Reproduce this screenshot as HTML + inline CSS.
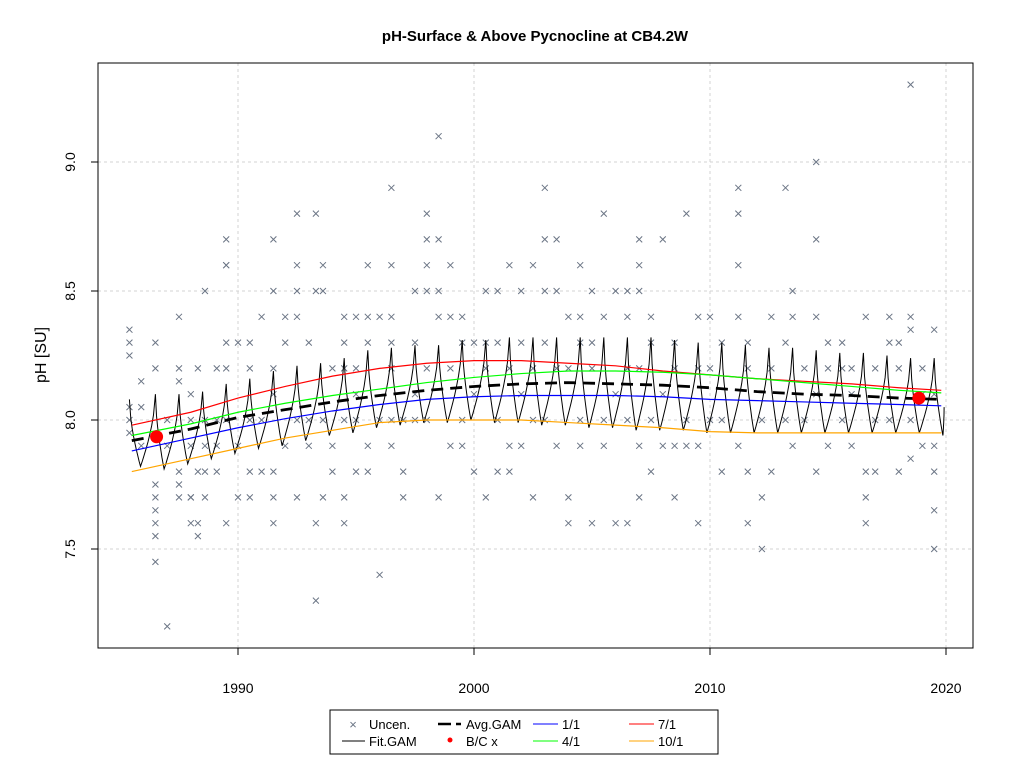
<!DOCTYPE html>
<html><head><meta charset="utf-8"><style>
body{margin:0;background:#fff;}
svg{display:block;font-family:"Liberation Sans",Arial,sans-serif;}
</style></head><body>
<svg id="chart" width="1024" height="768" viewBox="0 0 1024 768">
<rect width="1024" height="768" fill="#fff"/>
<text x="535" y="41" text-anchor="middle" font-size="15" font-weight="bold">pH-Surface &amp; Above Pycnocline at CB4.2W</text>
<g id="grid"></g>
<g id="scatter"></g>
<g id="lines"></g>
<rect x="98" y="63" width="875" height="585" fill="none" stroke="#000" stroke-width="1"/>
<g id="axes"></g>
<text transform="translate(46,355) rotate(-90)" text-anchor="middle" font-size="16">pH [SU]</text>
<g>
<rect x="330" y="710" width="388" height="44" fill="#fff" stroke="#000"/>
<text x="353" y="729" text-anchor="middle" font-size="13" fill="#6b7585">×</text>
<text x="369" y="729" font-size="13">Uncen.</text>
<line x1="342" y1="741" x2="365" y2="741" stroke="#000"/>
<text x="369" y="746" font-size="13">Fit.GAM</text>
<line x1="438" y1="724" x2="451" y2="724" stroke="#000" stroke-width="2.5"/><line x1="456" y1="724" x2="461" y2="724" stroke="#000" stroke-width="2.5"/>
<text x="466" y="729" font-size="13">Avg.GAM</text>
<circle cx="450" cy="740" r="2.5" fill="red"/>
<text x="466" y="746" font-size="13">B/C x</text>
<line x1="533" y1="724" x2="558" y2="724" stroke="#00f"/>
<text x="562" y="729" font-size="13">1/1</text>
<line x1="533" y1="741" x2="558" y2="741" stroke="#0f0"/>
<text x="562" y="746" font-size="13">4/1</text>
<line x1="629" y1="724" x2="654" y2="724" stroke="red"/>
<text x="658" y="729" font-size="13">7/1</text>
<line x1="629" y1="741" x2="654" y2="741" stroke="orange"/>
<text x="658" y="746" font-size="13">10/1</text>
</g>
</svg>
<script>
const xTicks=[1990,2000,2010,2020];
const yTicks=[7.5,8.0,8.5,9.0];
const yTickLabels=["7.5","8.0","8.5","9.0"];
const obs=[
[1985.4,[8.35,8.3,8.25,8.0,7.95,8.05]],[1985.9,[8.15,7.9,8.05]],
[1986.5,[8.3,7.55,7.75,8.2,7.65,7.6,7.7,7.45]],[1987,[7.2,7.9,8.0]],
[1987.5,[8.4,8.2,8.15,7.7,7.75,7.8]],[1988,[7.7,7.6,7.7,8.0,8.1,7.9]],
[1988.3,[7.55,7.6,7.8,8.2]],[1988.6,[8.5,7.7,8.0,7.8,7.9]],[1989.1,[7.8,8.0,8.2,7.9]],
[1989.5,[8.6,8.7,8.6,8.3,8.2,7.6,8.0]],[1990,[7.9,8.3,7.7]],[1990.5,[8.3,8.2,8.0,7.7,7.8]],
[1991,[8.4,7.8,8.0]],[1991.5,[8.7,8.5,8.2,8.1,7.8,7.7,7.6]],[1992,[8.4,7.9,8.3]],
[1992.5,[8.8,8.6,8.5,8.4,8.0,7.7]],[1993,[8.0,8.3,7.9]],[1993.3,[8.8,8.5,7.6,7.3]],
[1993.6,[8.6,8.5,7.7,8.0]],[1994,[8.2,7.8,7.9]],[1994.5,[8.4,8.3,8.2,7.6,7.7,8.0]],
[1995,[8.4,8.2,8.1,7.8,8.0]],[1995.5,[8.6,8.4,8.3,7.9,7.8]],[1996,[7.4,8.4,8.0]],
[1996.5,[8.9,8.6,8.4,8.3,8.2,8.0,7.9]],[1997,[7.7,7.8,8.0]],[1997.5,[8.5,8.3,8.1,8.0]],
[1998,[8.8,8.7,8.6,8.5,8.2,8.0]],[1998.5,[9.1,8.7,8.5,8.4,7.7]],[1999,[8.6,8.4,8.2,7.9]],
[1999.5,[8.4,8.3,7.9,8.0]],[2000,[8.3,8.1,7.8]],[2000.5,[8.5,8.3,8.2,7.7]],
[2001,[8.5,8.3,8.0,7.8]],[2001.5,[8.6,8.2,7.8,7.9]],[2002,[8.5,8.3,7.9,8.1]],
[2002.5,[8.6,8.2,7.7,8.0]],[2003,[8.9,8.7,8.5,8.3,8.0]],[2003.5,[8.7,8.5,8.2,7.9]],
[2004,[8.4,8.2,7.6,7.7]],[2004.5,[8.6,8.4,8.3,7.9,8.0]],[2005,[8.5,8.3,7.6,8.2]],
[2005.5,[8.8,8.4,8.0,7.9]],[2006,[8.5,8.1,7.6]],[2006.5,[8.5,8.4,8.2,7.6,8.0]],
[2007,[8.7,8.6,8.5,8.2,7.9,7.7]],[2007.5,[8.4,8.3,8.0,7.8]],[2008,[8.7,8.1,7.9]],
[2008.5,[8.3,8.2,7.7,7.9]],[2009,[8.8,8.0,7.9]],[2009.5,[8.4,8.2,7.6,7.9]],
[2010,[8.4,8.2,8.0]],[2010.5,[8.3,8.0,7.8]],[2011.2,[8.8,8.9,8.6,8.4,7.9]],
[2011.6,[8.3,7.6,8.2,7.8]],[2012.2,[8.0,7.7,7.5]],[2012.6,[8.4,8.2,7.8]],
[2013.2,[8.9,8.3,8.0]],[2013.5,[8.5,8.4,7.9]],[2014,[8.2,8.0]],[2014.5,[9.0,8.7,8.4,8.1,7.8]],
[2015,[8.3,8.2,7.9]],[2015.6,[8.2,8.3,8.0]],[2016,[8.2,8.1,7.9]],[2016.6,[8.4,7.8,7.6,7.7]],
[2017,[8.2,8.0,7.8]],[2017.6,[8.4,8.3,8.0]],[2018,[8.3,8.2,7.8]],[2018.5,[9.3,8.35,8.4,7.85,8.0]],
[2019,[8.2,8.1,7.9]],[2019.5,[8.35,7.5,7.65,8.1,7.8,7.9]]
];
const fitYears=[1985,1986,1987,1988,1989,1990,1991,1992,1993,1994,1995,1996,1997,1998,1999,2000,2001,2002,2003,2004,2005,2006,2007,2008,2009,2010,2011,2012,2013,2014,2015,2016,2017,2018,2019];
const fitPeaks=[8.08,8.10,8.10,8.11,8.14,8.16,8.19,8.21,8.22,8.24,8.27,8.28,8.29,8.29,8.31,8.31,8.32,8.32,8.32,8.32,8.32,8.32,8.32,8.31,8.30,8.30,8.29,8.28,8.28,8.27,8.26,8.26,8.25,8.24,8.24];
const fitTroughs=[7.82,7.81,7.83,7.85,7.87,7.89,7.90,7.92,7.94,7.95,7.97,7.98,7.99,7.99,8.0,7.99,7.99,7.98,7.98,7.97,7.97,7.96,7.96,7.96,7.95,7.95,7.95,7.95,7.95,7.95,7.95,7.95,7.95,7.95,7.94];
const trendYears=[1985.5,1988,1990,1992,1994,1996,1998,2000,2002,2004,2006,2008,2010,2012,2014,2016,2018,2019.8];
const jan=[7.88,7.93,7.97,8.005,8.035,8.06,8.08,8.09,8.095,8.095,8.095,8.09,8.08,8.075,8.07,8.065,8.06,8.055];
const apr=[7.94,7.985,8.03,8.065,8.095,8.12,8.145,8.165,8.18,8.19,8.19,8.185,8.175,8.16,8.145,8.13,8.115,8.105];
const jul=[7.98,8.03,8.085,8.13,8.17,8.20,8.22,8.23,8.23,8.22,8.21,8.19,8.175,8.16,8.15,8.14,8.125,8.115];
const oct=[7.80,7.85,7.89,7.93,7.96,7.99,8.0,8.0,8.0,7.99,7.98,7.97,7.955,7.95,7.95,7.95,7.95,7.95];
const avg=[7.92,7.965,8.01,8.04,8.07,8.095,8.115,8.13,8.14,8.145,8.14,8.135,8.125,8.11,8.10,8.095,8.085,8.08];
const bcYears=[1986.55,2018.85];
const bcValues=[7.935,8.085];

const NS="http://www.w3.org/2000/svg";
const X=y=>238+(y-1990)*23.6;
const Y=v=>420-(v-8)*258;
function mk(tag,attrs,parent){const e=document.createElementNS(NS,tag);for(const k in attrs)e.setAttribute(k,attrs[k]);parent.appendChild(e);return e;}
const grid=document.getElementById('grid'),axes=document.getElementById('axes'),sc=document.getElementById('scatter'),ln=document.getElementById('lines');
xTicks.forEach(t=>{
 const g=mk('line',{x1:X(t),x2:X(t),y1:63,y2:648,stroke:'#d3d3d3','stroke-dasharray':'3,3'},grid);
 
 
 const tk=mk('line',{x1:X(t),x2:X(t),y1:648,y2:655,stroke:'#000'},axes);
 
 
 const tx=mk('text',{x:X(t),y:693,'text-anchor':'middle','font-size':'14'},axes);tx.textContent=t;
 
 
});
yTicks.forEach((t,i)=>{
 const g=mk('line',{x1:98,x2:973,y1:Y(t),y2:Y(t),stroke:'#d3d3d3','stroke-dasharray':'3,3'},grid);
 
 
 const tk=mk('line',{x1:91,x2:98,y1:Y(t),y2:Y(t),stroke:'#000'},axes);
 
 
 const tx=mk('text',{transform:`translate(75,${Y(t)}) rotate(-90)`,'text-anchor':'middle','font-size':'14'},axes);tx.textContent=yTickLabels[i];
 
 
});
const xa=mk('line',{x1:X(1990),x2:X(2020),y1:648,y2:648,stroke:'#000'},axes);


obs.forEach(([yr,vals])=>vals.forEach(v=>{
 const cx=X(yr),cy=Y(v),s=3;
 const p=mk('path',{d:`M${cx-s},${cy-s}L${cx+s},${cy+s}M${cx-s},${cy+s}L${cx+s},${cy-s}`,stroke:'#6b7585','stroke-width':'1',fill:'none'},sc);
 
 
}));
// fit curve: sharp peaks and troughs
let pts=[];
const knots=[];
knots.push([1985.4,fitPeaks[0]]);
fitYears.forEach((y,i)=>{ if(i>0) knots.push([y+0.5,fitPeaks[i]]); knots.push([y+0.87,fitTroughs[i]]); });
knots.push([2019.92,8.05]);
for(let k=0;k<knots.length-1;k++){
 const [t0,v0]=knots[k],[t1,v1]=knots[k+1];
 const falling=v1<v0;
 for(let s=0;s<8;s++){const f=s/8;
  // concave shape: steep near peak on both sides
  const w=falling?Math.pow(f,0.6):1-Math.pow(1-f,0.6);
  pts.push(X(t0+(t1-t0)*f).toFixed(1)+','+Y(v0+(v1-v0)*w).toFixed(1));}
}
pts.push(X(knots[knots.length-1][0])+','+Y(knots[knots.length-1][1]));
const fit=mk('polyline',{points:pts.join(' '),fill:'none',stroke:'#000','stroke-width':'1'},ln);


function trend(vals,color,name,extra){
 const pl=mk('polyline',Object.assign({points:trendYears.map((t,i)=>X(t)+','+Y(vals[i])).join(' '),fill:'none',stroke:color,'stroke-width':'1.2'},extra||{}),ln);
 
 
}
trend(oct,'orange','oct-1-line');
trend(jan,'#00f','jan-1-line');
trend(jul,'red','jul-1-line');
trend(apr,'#0f0','apr-1-line');
trend(avg,'#000','avg-gam-line',{'stroke-width':'2.8','stroke-dasharray':'12,7'});
bcYears.forEach((y,i)=>{
 const c=mk('circle',{cx:X(y),cy:Y(bcValues[i]),r:6.5,fill:'red'},ln);
 
 
});
</script>
</body></html>
